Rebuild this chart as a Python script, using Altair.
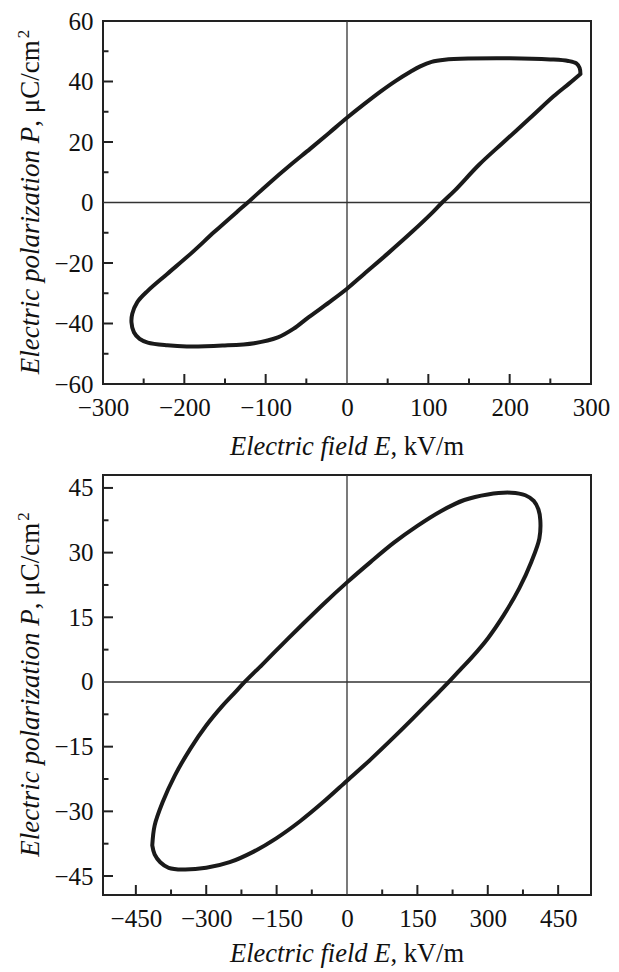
import altair as alt
import pandas as pd

# ---------------- data ----------------
# Top panel hysteresis loop: electric field E (kV/m), polarization P (uC/cm^2)
top_E = [287, 286, 282, 272, 250, 200, 150, 120, 104, 90, 78, 60, 42, 21, 0,
         -22, -45, -70, -96, -122, -134, -163, -192, -221, -245, -258, -264,
         -265, -262, -255, -245, -221, -197, -153, -114, -85, -66, -47, -22, 0,
         21, 50, 80, 104, 117, 133, 162, 191, 225, 254, 273, 287]
top_P = [42.5, 44.5, 46.0, 46.8, 47.3, 47.7, 47.6, 47.2, 46.5, 45.0, 43.2, 40.2,
         36.8, 32.5, 28.0, 23.0, 17.8, 12.3, 6.3, 0.0, -2.8, -9.7, -16.9, -23.6,
         -29.2, -33.0, -36.8, -39.6, -42.9, -45.1, -46.3, -47.2, -47.6, -47.3,
         -46.5, -44.6, -41.8, -37.9, -33.0, -28.5, -23.6, -16.9, -9.7, -3.6, 0.0,
         4.1, 12.4, 19.6, 27.9, 35.1, 39.3, 42.5]

# Bottom panel hysteresis loop
bot_E = [-415, -410, -393, -367, -334, -300, -266, -241, -218, -180, -140,
         -100, -50, 0, 50, 100, 150, 200, 250, 300, 350, 380, 398, 408, 412,
         410, 393, 367, 334, 300, 266, 241, 217, 180, 140, 100, 50, 0, -50,
         -100, -150, -200, -250, -300, -350, -380, -398, -410, -415]
bot_P = [-37.9, -33.3, -27.9, -21.7, -15.5, -10.1, -5.6, -2.7, 0.0, 4.1, 8.5,
         12.8, 18.1, 23.1, 27.8, 32.3, 36.2, 39.6, 42.2, 43.5, 43.9, 43.3, 42.0,
         40.0, 37.5, 33.3, 27.9, 21.7, 15.5, 10.1, 5.7, 2.8, 0.0, -4.1, -8.5,
         -12.8, -18.0, -22.9, -27.8, -32.3, -36.2, -39.4, -41.8, -43.1, -43.5,
         -43.1, -41.8, -40.0, -37.9]

# axes
top_x_domain = [-300, 300]
top_y_domain = [-60, 60]
top_x_major = [-300, -200, -100, 0, 100, 200, 300]
top_x_minor = [-250, -150, -50, 50, 150, 250]
top_y_major = [-60, -40, -20, 0, 20, 40, 60]
top_y_minor = [-50, -30, -10, 10, 30, 50]

bot_x_domain = [-520, 520]
bot_y_domain = [-49.4, 48]
bot_x_major = [-450, -300, -150, 0, 150, 300, 450]
bot_x_minor = [-375, -225, -75, 75, 225, 375]
bot_y_major = [-45, -30, -15, 0, 15, 30, 45]
bot_y_minor = [-37.5, -22.5, -7.5, 7.5, 22.5, 37.5]

x_title_italic = ["Electric field E"]
x_title_roman = [", kV/m"]
y_title_italic = ["Electric polarization P"]
y_title_roman = [", \u03bcC/cm"]
y_title_sup = ["2"]

# ---------------- styling ----------------
FONT = "'Liberation Serif', 'Times New Roman', Times, serif"
LINE = "#1a1a1a"
INK = "#222222"
TICK_FS = 25
TITLE_FS = 26.5
YTITLE_FS = 27
SUP_FS = 17
W = 488


def panel(E, P, xdom, ydom, xmaj, xmin, ymaj, ymin, H, xtitle_gap):
    xs = alt.Scale(domain=xdom, nice=False, zero=False)
    ys = alt.Scale(domain=ydom, nice=False, zero=False)

    xaxis = alt.Axis(values=xmaj, title=None, ticks=False, domain=False,
                     grid=False, labelFont=FONT, labelFontSize=TICK_FS,
                     labelColor="#111", labelPadding=11, labelFlush=False,
                     labelOverlap=False)
    yaxis = alt.Axis(values=ymaj, title=None, ticks=False, domain=False,
                     grid=False, labelFont=FONT, labelFontSize=TICK_FS,
                     labelColor="#111", labelPadding=10, labelOverlap=False)

    loop = pd.DataFrame({"E": E, "P": P, "i": list(range(len(E)))})
    line = alt.Chart(loop).mark_line(
        color=LINE, strokeWidth=4, interpolate="catmull-rom",
        strokeJoin="round", strokeCap="round"
    ).encode(
        x=alt.X("E:Q", scale=xs, axis=xaxis),
        y=alt.Y("P:Q", scale=ys, axis=yaxis),
        order="i:Q",
    )

    zero = pd.DataFrame({"v": [0]})
    hzero = alt.Chart(zero).mark_rule(color="#333", strokeWidth=1.3).encode(
        y=alt.Y("v:Q", scale=ys, axis=yaxis))
    vzero = alt.Chart(zero).mark_rule(color="#333", strokeWidth=1.3).encode(
        x=alt.X("v:Q", scale=xs, axis=xaxis))

    def inner(vals, dom):
        return [v for v in vals if dom[0] < v < dom[1] and v != 0]

    def xticks(vals, length):
        df = pd.DataFrame({"v": inner(vals, xdom)})
        return alt.Chart(df).mark_rule(color=INK, strokeWidth=2).encode(
            x=alt.X("v:Q", scale=xs, axis=xaxis),
            y=alt.value(H), y2=alt.value(H - length))

    def yticks(vals, length):
        df = pd.DataFrame({"v": inner(vals, ydom)})
        return alt.Chart(df).mark_rule(color=INK, strokeWidth=2).encode(
            y=alt.Y("v:Q", scale=ys, axis=yaxis),
            x=alt.value(0), x2=alt.value(length))

    # x-axis title: italic part + upright part
    it_w = 6.055 * TITLE_FS
    ro_w = 2.778 * TITLE_FS
    split = W / 2 + (it_w - ro_w) / 2
    xt1 = alt.Chart(pd.DataFrame({"t": x_title_italic})).mark_text(
        font=FONT, fontSize=TITLE_FS, fontStyle="italic", align="right",
        baseline="alphabetic", color="#111").encode(
        text="t:N", x=alt.value(split), y=alt.value(H + xtitle_gap))
    xt2 = alt.Chart(pd.DataFrame({"t": x_title_roman})).mark_text(
        font=FONT, fontSize=TITLE_FS, align="left",
        baseline="alphabetic", color="#111").encode(
        text="t:N", x=alt.value(split), y=alt.value(H + xtitle_gap))

    # y-axis title (rotated, reads bottom to top)
    yit_w = 9.167 * YTITLE_FS
    yro_w = 3.243 * YTITLE_FS
    sup_w = 0.5 * SUP_FS
    ysplit = H / 2 - (yit_w - yro_w - sup_w) / 2
    ybase = -64
    yt1 = alt.Chart(pd.DataFrame({"t": y_title_italic})).mark_text(
        font=FONT, fontSize=YTITLE_FS, fontStyle="italic", align="right",
        baseline="alphabetic", angle=270, color="#111").encode(
        text="t:N", x=alt.value(ybase), y=alt.value(ysplit))
    yt2 = alt.Chart(pd.DataFrame({"t": y_title_roman})).mark_text(
        font=FONT, fontSize=YTITLE_FS, align="left",
        baseline="alphabetic", angle=270, color="#111").encode(
        text="t:N", x=alt.value(ybase), y=alt.value(ysplit))
    yt3 = alt.Chart(pd.DataFrame({"t": y_title_sup})).mark_text(
        font=FONT, fontSize=SUP_FS, align="left",
        baseline="alphabetic", angle=270, color="#111").encode(
        text="t:N", x=alt.value(ybase - 10), y=alt.value(ysplit - yro_w - 1))

    return alt.layer(
        hzero, vzero, line,
        xticks(xmaj, 10), xticks(xmin, 5.5),
        yticks(ymaj, 10), yticks(ymin, 5.5),
        xt1, xt2, yt1, yt2, yt3,
    ).properties(width=W, height=H)


top = panel(top_E, top_P, top_x_domain, top_y_domain, top_x_major,
            top_x_minor, top_y_major, top_y_minor, 363, 71)
bottom = panel(bot_E, bot_P, bot_x_domain, bot_y_domain, bot_x_major,
               bot_x_minor, bot_y_major, bot_y_minor, 420, 67)

chart = alt.vconcat(top, bottom, spacing=11).properties(
    padding={"left": 6, "top": 0, "right": 0, "bottom": 0},
    background="white",
).configure_view(
    stroke=INK, strokeWidth=2
)

chart.save("out.html", embed_options={"renderer": "svg", "actions": False})
